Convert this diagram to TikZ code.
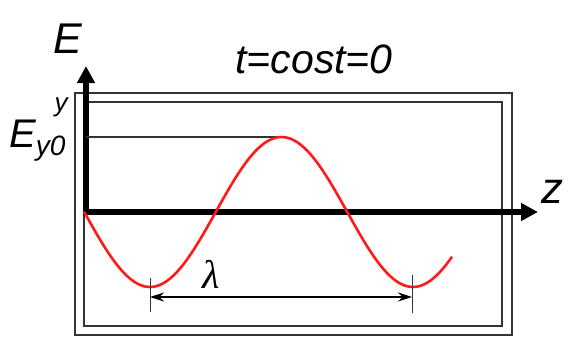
\documentclass[tikz,border=0pt]{standalone}
\usepackage{amsmath,amssymb}
\usepackage{fontspec}
\setmainfont{Liberation Sans}
\newfontfamily\lambdafont{Liberation Serif}
\usetikzlibrary{arrows.meta, positioning, calc}

\definecolor{framegray}{HTML}{333333}
\definecolor{wavered}{HTML}{FF1A1A}

\tikzset{
  frame/.style={draw=framegray, line width=1.4pt},
  axis/.style={line width=6pt, -{Triangle[length=17pt, width=17pt]}},
  wave/.style={draw=wavered, line width=2.6pt},
  label/.style={inner sep=0pt, font=\itshape},
  dimline/.style={line width=1.1pt, {Stealth[length=14pt, width=9pt]}-{Stealth[length=14pt, width=9pt]}},
  tick/.style={line width=0.8pt, draw=black!80}
}

\begin{document}
\begin{tikzpicture}[x=1pt, y=-1pt]
      \useasboundingbox (0,0) rectangle (573,338);

      % Frames
      \draw[frame] (75,93) rectangle (512,335);
      \draw[frame] (84,102) rectangle (502,326);

      % Axes
      \coordinate (origin) at (86,212);
      \coordinate (ytip) at (86,66);
      \coordinate (ztip) at (538,212);
      \draw[axis] (86,215) -- (ytip);
      \draw[axis] (83,212) -- (ztip);

      % Amplitude
      \coordinate (peak) at (281,137);
      \draw[frame, line width=1.2pt] (origin |- peak) -- (peak);

      % Wave
      \draw[wave] plot[domain=84:452, samples=120] (\x, {212+75*cos(1.36882*(\x-150))});

      % Wavelength
      \coordinate (minA) at (150,297);
      \coordinate (minB) at (412,297);
      \draw[tick] (150,278) -- (150,312);
      \draw[tick] (412,275) -- (412,313);
      \draw[dimline] (minA) -- (minB);
      \node[label, anchor=base, font=\lambdafont\itshape\fontsize{40}{40}\selectfont] (lambda) at (211,288) {λ};

      % Labels
      \node[label, anchor=base, font=\itshape\fontsize{43}{43}\selectfont] (Elabel) at (68,53) {E};
      \node[label, anchor=base, font=\itshape\fontsize{26}{26}\selectfont] (ylabel) at (61,111) {y};
      \node[label, anchor=base west, font=\itshape\fontsize{40}{40}\selectfont] (Ey0) at (9,147) {E\raisebox{-8pt}{\fontsize{28}{28}\selectfont y0}};
      \node[label, anchor=base, font=\itshape\fontsize{41}{41}\selectfont] (time) at (314,73) {t=cost=0};
      \node[label, anchor=base, font=\itshape\fontsize{44}{44}\selectfont] (zlabel) at (552,203) {z};
\end{tikzpicture}
\end{document}
